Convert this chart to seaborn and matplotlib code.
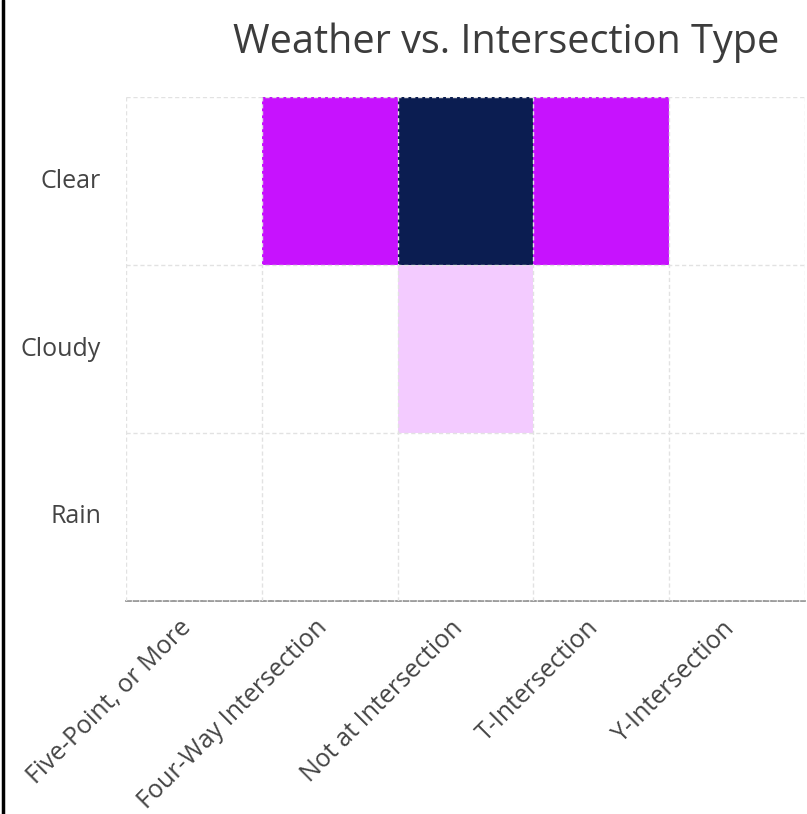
"""Weather vs. intersection type heatmap."""

import matplotlib

matplotlib.use("Agg")
import matplotlib.pyplot as plt
import numpy as np
import pandas as pd
import seaborn as sns
from matplotlib.colors import LinearSegmentedColormap
from matplotlib.lines import Line2D
from matplotlib.transforms import ScaledTranslation

weather = ["Clear", "Cloudy", "Rain"]
intersection_types = [
    "Five-Point, or More",
    "Four-Way Intersection",
    "Not at Intersection",
    "T-Intersection",
    "Y-Intersection",
]
clear_counts = [0, 20, 40, 20, 0]
cloudy_counts = [0, 0, 4.5, 0, 0]
rain_counts = [0, 0, 0, 0, 0]

counts = pd.DataFrame(
    [clear_counts, cloudy_counts, rain_counts],
    index=weather,
    columns=intersection_types,
)

cmap = LinearSegmentedColormap.from_list(
    "pbi", [(0.0, "#ffffff"), (0.5, "#c812ff"), (1.0, "#0b1d51")]
)

sns.set_style("white")
plt.rcParams["font.family"] = ["Open Sans", "DejaVu Sans"]

fig = plt.figure(figsize=(8.07, 8.14), dpi=100)
ax = fig.add_axes([0.156, 0.2617, 0.8415, 0.6191])

sns.heatmap(counts, cmap=cmap, vmin=0, vmax=40, cbar=False, ax=ax, linewidths=0)

# dashed cell borders drawn on top of the cells
ax.set_axisbelow(False)
ax.set_xticks(np.arange(len(intersection_types) + 1), minor=True)
ax.set_yticks(np.arange(len(weather) + 1), minor=True)
ax.grid(which="minor", color="#e2e2e2", linestyle=(0, (3, 2)), linewidth=1)
ax.grid(which="major", visible=False)
ax.tick_params(which="both", length=0)
for side in ["top", "left", "right"]:
    ax.spines[side].set_visible(False)
ax.spines["bottom"].set_visible(True)
ax.spines["bottom"].set_color("#8a8a8a")
ax.spines["bottom"].set_linestyle((0, (3, 1.5)))
ax.spines["bottom"].set_linewidth(1.2)

ax.set_xlabel("")
ax.set_ylabel("")
ax.set_yticklabels(weather, rotation=0, fontsize=18, color="#444444")
ax.set_xticklabels(
    intersection_types,
    rotation=45,
    ha="right",
    rotation_mode="anchor",
    fontsize=18,
    color="#444444",
)
ax.tick_params(axis="y", pad=18)
ax.tick_params(axis="x", pad=14)

# nudge the slanted labels so their ends sit just left of the column centres
shift = ScaledTranslation(-0.15, 0.05, fig.dpi_scale_trans)
for label in ax.get_xticklabels():
    label.set_transform(label.get_transform() + shift)

fig.text(0.966, 0.947, "Weather vs. Intersection Type", ha="right", va="center",
         fontsize=28.5, color="#3c3c3c")

fig.add_artist(Line2D([0.004, 0.004], [0, 1], color="black", linewidth=2.5,
                      transform=fig.transFigure))

fig.savefig("out.png", dpi=100)
